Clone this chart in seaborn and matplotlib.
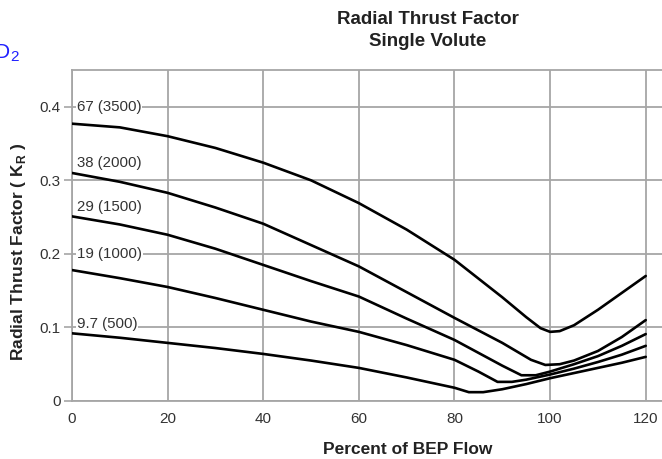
import pandas as pd
import seaborn as sns
import matplotlib.pyplot as plt

# curve labels: specific speed (US units in brackets)
curve_labels = ["67 (3500)", "38 (2000)", "29 (1500)", "19 (1000)", "9.7 (500)"]

flow_3500 = [0, 10, 20, 30, 40, 50, 60, 70, 80, 90, 95, 98, 100, 102, 105, 110, 115, 120]
kr_3500 = [0.377, 0.372, 0.360, 0.344, 0.324, 0.300, 0.269, 0.233, 0.192, 0.141, 0.114,
           0.099, 0.094, 0.095, 0.103, 0.124, 0.147, 0.170]

flow_2000 = [0, 10, 20, 30, 40, 50, 60, 70, 80, 90, 96, 99, 102, 105, 110, 115, 120]
kr_2000 = [0.310, 0.298, 0.283, 0.263, 0.241, 0.212, 0.183, 0.148, 0.113, 0.079, 0.056,
           0.049, 0.050, 0.055, 0.068, 0.087, 0.110]

flow_1500 = [0, 10, 20, 30, 40, 50, 60, 70, 80, 90, 94, 97, 100, 105, 110, 115, 120]
kr_1500 = [0.251, 0.240, 0.226, 0.207, 0.185, 0.163, 0.142, 0.112, 0.083, 0.048, 0.035,
           0.035, 0.040, 0.050, 0.061, 0.075, 0.091]

flow_1000 = [0, 10, 20, 30, 40, 50, 60, 70, 80, 85, 89, 92, 95, 100, 105, 110, 115, 120]
kr_1000 = [0.178, 0.167, 0.155, 0.140, 0.124, 0.108, 0.094, 0.076, 0.056, 0.040, 0.026,
           0.026, 0.029, 0.036, 0.044, 0.053, 0.063, 0.075]

flow_500 = [0, 10, 20, 30, 40, 50, 60, 70, 80, 83, 86, 90, 95, 100, 105, 110, 115, 120]
kr_500 = [0.092, 0.086, 0.079, 0.072, 0.064, 0.055, 0.045, 0.032, 0.018, 0.012, 0.012,
          0.016, 0.023, 0.031, 0.038, 0.045, 0.052, 0.060]

# where each curve label sits (y value, in K_R units)
label_y = [0.400, 0.324, 0.264, 0.200, 0.105]

x_ticks = [0, 20, 40, 60, 80, 100, 120]
y_ticks = [0, 0.1, 0.2, 0.3, 0.4]
y_tick_labels = ["0", "0.1", "0.2", "0.3", "0.4"]

flows = [flow_3500, flow_2000, flow_1500, flow_1000, flow_500]
krs = [kr_3500, kr_2000, kr_1500, kr_1000, kr_500]
df = pd.concat(
    [pd.DataFrame({"flow": f, "kr": k, "curve": c}) for f, k, c in zip(flows, krs, curve_labels)],
    ignore_index=True,
)

sns.set_style("white")
plt.rcParams["font.family"] = ["Liberation Sans", "DejaVu Sans"]

grid_col = "#a6a6a6"
text_col = "#333333"

fig = plt.figure(figsize=(6.62, 4.59), dpi=100)
ax = fig.add_axes([72 / 662, 1 - 401 / 459, 1 - 72 / 662, (401 - 70) / 459])

sns.lineplot(data=df, x="flow", y="kr", hue="curve", palette=["black"] * 5,
             estimator=None, sort=False, legend=False, linewidth=1.9, ax=ax, zorder=3)

ax.set_xlim(0, 123.4)
ax.set_ylim(0, 0.45)
ax.set_xticks(x_ticks)
ax.set_yticks(y_ticks)
ax.set_yticklabels(y_tick_labels)
ax.grid(True, color=grid_col, linewidth=1.3)
ax.set_axisbelow(True)
for side in ["left", "bottom", "top"]:
    ax.spines[side].set_color(grid_col)
    ax.spines[side].set_linewidth(1.3)
ax.spines["right"].set_visible(False)
ax.tick_params(axis="x", length=0, pad=8, labelsize=11, labelcolor=text_col)
ax.tick_params(axis="y", length=6, width=1.2, color=grid_col, pad=2, labelsize=11,
               labelcolor=text_col, left=True)

ax.set_xlabel("")
ax.set_ylabel("")

for lab, yv in zip(curve_labels, label_y):
    ax.text(1.0, yv, lab, fontsize=10.8, color=text_col, ha="left", va="center", zorder=2,
            bbox=dict(facecolor="white", edgecolor="none", pad=0.6))

fig.text(428 / 662, 1 - 20 / 459, "Radial Thrust Factor", ha="center", va="center",
         fontsize=13.5, fontweight="bold", color="#222222")
fig.text(428 / 662, 1 - 42 / 459, "Single Volute", ha="center", va="center",
         fontsize=13.5, fontweight="bold", color="#222222")
fig.text(408 / 662, 1 - 449 / 459, "Percent of BEP Flow", ha="center", va="center",
         fontsize=12.5, fontweight="bold", color="#222222")
fig.text(19 / 662, 1 - 252 / 459, "Radial Thrust Factor ( K$_\\mathregular{R}$ )",
         ha="center", va="center", rotation=90, fontsize=12.5, fontweight="bold",
         color="#222222")

# fragment of blue page text cut off at the top left
fig.text(9 / 662, 1 - 52 / 459, "D", ha="right", va="center", fontsize=15, color="#2020ff")
fig.text(10 / 662, 1 - 57 / 459, "2", ha="left", va="center", fontsize=11, color="#2020ff")

fig.savefig("out.png", dpi=100)
